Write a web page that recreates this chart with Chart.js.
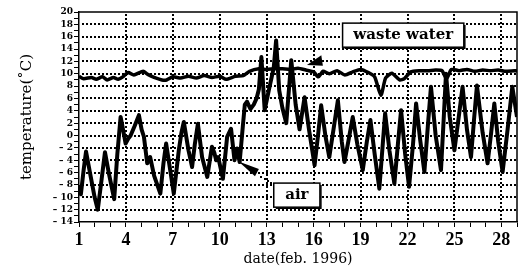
<!DOCTYPE html>
<html><head><meta charset="utf-8">
<script src="https://cdn.jsdelivr.net/npm/chart.js@4/dist/chart.umd.min.js"></script>
<style>html,body{margin:0;padding:0;background:#fff}canvas{display:block}</style>
</head><body>
<canvas id="c" width="528" height="270"></canvas>
<script>
// ---- data ----
const airDays = [1.0,1.12,1.3,1.45,1.7,2.0,2.2,2.45,2.66,2.9,3.25,3.45,3.66,3.85,3.98,4.15,4.3,4.55,4.83,5.0,5.15,5.36,5.55,5.8,6.2,6.4,6.57,6.8,7.06,7.38,7.55,7.7,8.0,8.23,8.4,8.6,8.87,9.2,9.5,9.65,9.77,9.9,10.2,10.47,10.72,10.94,11.1,11.27,11.47,11.6,11.74,11.96,12.17,12.35,12.5,12.66,12.87,13.15,13.45,13.6,13.8,14.0,14.25,14.57,14.85,15.1,15.42,15.7,16.06,16.3,16.48,16.75,17.0,17.3,17.55,17.8,17.97,18.25,18.5,18.8,19.14,19.4,19.63,19.9,20.2,20.4,20.57,20.85,21.16,21.4,21.59,21.85,22.1,22.35,22.55,22.8,23.08,23.3,23.5,23.8,24.14,24.3,24.46,24.7,25.0,25.3,25.52,25.8,26.06,26.25,26.44,26.8,27.12,27.35,27.55,27.8,28.08,28.4,28.7,29.0];
const airTemps = [-8.0,-9.5,-5.5,-2.6,-6,-10,-12.0,-7,-2.7,-6,-10.3,-3,3.0,0.5,-1.3,-0.5,0.0,1.5,3.3,1.0,-0.2,-4.5,-3.5,-6.5,-9.4,-4.5,-1.3,-5.1,-9.4,-2.4,0.5,2.2,-2.4,-5.1,-1.5,1.9,-3.5,-6.7,-1.8,-2.8,-4,-3.5,-7,-0.2,1.1,-4,-2.1,-4.3,1.4,5.0,5.5,4.3,5.0,6.0,7.5,12.7,4.1,7.5,11.0,15.4,7.3,4.5,2.0,12.2,5.0,1.0,6.2,1.0,-4.8,0.5,4.9,0.0,-3.5,1.5,5.7,-1.0,-4.3,-0.5,3.0,-1.5,-5.6,-1.0,2.5,-3.0,-8.6,-2.0,3.6,-2.5,-7.8,-1.0,4.1,-3.0,-8.3,-1.5,5.2,-0.5,-5.9,1.5,7.9,0.0,-5.6,2.0,10.0,3.0,-2.4,3.5,7.9,1.0,-3.5,2.5,8.1,0.5,-4.5,0.5,5.2,-1.0,-5.9,1.0,7.9,3.0];
const wasteDays = [1.0,1.3,1.8,2.1,2.5,2.8,3.2,3.5,3.8,4.15,4.5,5.1,5.4,5.8,6.3,6.6,7.0,7.5,8.0,8.5,9.0,9.5,10.0,10.4,11.0,11.5,11.9,12.5,13.0,13.5,14.0,14.5,15.0,15.5,16.0,16.3,16.6,17.0,17.5,18.0,18.5,19.0,19.5,19.9,20.3,20.6,21.0,21.5,21.8,22.2,22.8,23.3,23.8,24.2,24.5,24.8,25.3,25.8,26.3,26.8,27.3,27.8,28.3,29.0];
const wasteTemps = [9.6,9.2,9.4,9.1,9.5,9.0,9.4,9.1,9.5,10.2,9.8,10.4,9.9,9.4,9.0,9.0,9.5,9.3,9.6,9.3,9.7,9.4,9.6,9.1,9.6,9.7,10.4,10.8,10.7,10.8,10.8,10.7,10.9,10.6,10.3,9.5,10.4,10.0,10.5,9.8,10.3,10.7,10.2,9.5,6.5,9.3,10.1,9.0,9.2,10.3,10.5,10.5,10.6,10.5,9.2,10.7,10.5,10.7,10.4,10.6,10.5,10.6,10.4,10.5];
const seriesNames = ['air','waste water'];
const xTickLabels = [1,4,7,10,13,16,19,22,25,28];
const yTickLabels = [20,18,16,14,12,10,8,6,4,2,0,-2,-4,-6,-8,-10,-12,-14];
const xTitle = 'date(feb. 1996)';
const yTitle = 'temperature(\u02DAC)';

const toPts = (xs, ys) => xs.map((d, i) => ({x: d, y: ys[i]}));

// dotted grid at the labelled ticks, placed through the chart's scales
const dotGrid = {
  id: 'dotGrid',
  beforeDatasetsDraw(chart) {
    const {ctx, chartArea: a, scales: {x, y}} = chart;
    ctx.save();
    ctx.fillStyle = '#000';
    yTickLabels.forEach(v => {
      if (v <= -14 || v >= 20) return;
      const py = Math.round(y.getPixelForValue(v)) - 1;
      for (let px = a.left + 3; px < a.right - 2; px += 4) ctx.fillRect(px, py, 2, 2);
    });
    xTickLabels.forEach(d => {
      if (d <= 1 || d >= 29) return;
      const px = Math.round(x.getPixelForValue(d)) - 1;
      for (let py = a.top + 2; py < a.bottom - 2; py += 4) ctx.fillRect(px, py, 2, 2);
    });
    ctx.restore();
  }
};

const annot = {
  id: 'annot',
  afterDatasetsDraw(chart) {
    const {ctx, chartArea: a, scales: {x, y}} = chart;
    ctx.save();
    ctx.strokeStyle = '#000'; ctx.lineWidth = 1.5; ctx.setLineDash([]);
    ctx.beginPath(); ctx.moveTo(a.left, a.top); ctx.lineTo(a.right, a.top); ctx.lineTo(a.right, a.bottom); ctx.stroke();
    const P = (d, v) => [x.getPixelForValue(d), y.getPixelForValue(v)];
    function box(label, d0, v0, d1, v1) {
      const [x0, y0] = P(d0, v0), [x1, y1] = P(d1, v1);
      ctx.fillStyle = '#fff';
      ctx.fillRect(x0, y0, x1 - x0, y1 - y0);
      ctx.strokeStyle = '#000'; ctx.lineWidth = 1.5;
      ctx.strokeRect(x0, y0, x1 - x0, y1 - y0);
      ctx.beginPath(); ctx.moveTo(x1 + 1, y0 + 2); ctx.lineTo(x1 + 1, y1 + 1); ctx.lineTo(x0 + 2, y1 + 1); ctx.stroke();
      ctx.fillStyle = '#000';
      ctx.font = 'bold 15px "DejaVu Serif"';
      ctx.textAlign = 'center'; ctx.textBaseline = 'middle';
      ctx.fillText(label, (x0 + x1) / 2, (y0 + y1) / 2);
    }
    function wedge(pts) {
      ctx.fillStyle = '#000';
      ctx.beginPath();
      pts.forEach((p, i) => { const q = P(p[0], p[1]); i ? ctx.lineTo(q[0], q[1]) : ctx.moveTo(q[0], q[1]); });
      ctx.closePath(); ctx.fill();
    }
    function leader(p0, p1) {
      const a0 = P(p0[0], p0[1]), a1 = P(p1[0], p1[1]);
      ctx.fillStyle = '#000';
      const n = 4;
      for (let i = 0; i <= n; i++) ctx.fillRect(Math.round(a0[0] + (a1[0] - a0[0]) * i / n), Math.round(a0[1] + (a1[1] - a0[1]) * i / n), 2, 2);
    }
    wedge([[15.57, 11.4], [16.49, 13.0], [16.59, 11.3]]);
    box(seriesNames[1], 17.85, 18.2, 25.6, 14.3);
    leader([12.6, -6.6], [13.45, -7.8]);
    wedge([[11.2, -4.2], [12.5, -5.4], [12.25, -6.6]]);
    box(seriesNames[0], 13.45, -7.7, 16.4, -11.6);
    ctx.restore();
  }
};

new Chart(document.getElementById('c'), {
  type: 'line',
  data: {
    datasets: [
      {label: seriesNames[1], data: toPts(wasteDays, wasteTemps), borderColor: '#000', borderWidth: 3.5, pointRadius: 0, tension: 0.2, fill: false},
      {label: seriesNames[0], data: toPts(airDays, airTemps), borderColor: '#000', borderWidth: 4, pointRadius: 0, tension: 0, fill: false, borderJoinStyle: 'round'}
    ]
  },
  options: {
    responsive: false, animation: false, devicePixelRatio: 1,
    layout: {padding: {top: 12, right: 11, left: 0, bottom: 0}},
    plugins: {legend: {display: false}, tooltip: {enabled: false}},
    scales: {
      x: {
        type: 'linear', min: 1, max: 29,
        afterBuildTicks: s => { const t = []; for (let d = 1; d <= 29; d++) t.push({value: d}); s.ticks = t; },
        afterFit: s => { s.height = 48; },
        ticks: {
          autoSkip: false, maxRotation: 0, padding: 3,
          color: '#000', font: {family: '"Liberation Serif"', size: 18, weight: 'bold'},
          callback: v => xTickLabels.includes(v) ? String(v) : ''
        },
        grid: {drawOnChartArea: false, color: '#000', tickColor: '#000', tickLength: 5, tickWidth: 1},
        border: {display: true, color: '#000', width: 1.5},
        title: {display: true, text: xTitle, color: '#000', font: {family: '"DejaVu Serif"', size: 14}, padding: {top: 0, bottom: 2}}
      },
      y: {
        type: 'linear', min: -14, max: 20,
        afterBuildTicks: s => { const t = []; for (let v = -14; v <= 20; v++) t.push({value: v}); s.ticks = t; },
        afterFit: s => { s.width = 79; },
        ticks: {
          autoSkip: false, padding: 1, color: '#000',
          font: {family: '"DejaVu Serif"', size: 9, weight: 'bold'},
          callback: v => yTickLabels.includes(v) ? (v < 0 ? '\u2013 ' + Math.abs(v) : String(v)) : ''
        },
        grid: {drawOnChartArea: false, color: '#000', tickColor: '#000', tickLength: 5, tickWidth: 1},
        border: {display: true, color: '#000', width: 1.5},
        title: {display: true, text: yTitle, color: '#000', font: {family: '"DejaVu Serif"', size: 15}, padding: {top: 18, bottom: 0}}
      }
    }
  },
  plugins: [dotGrid, annot]
});
</script>
</body></html>
